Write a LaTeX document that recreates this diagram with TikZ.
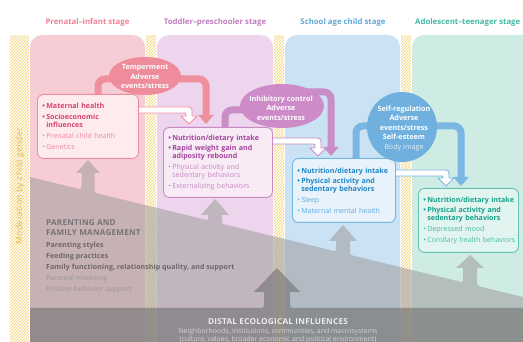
\documentclass[tikz,border=0pt]{standalone}
\usepackage{fontspec}
\setmainfont{Open Sans}
\usetikzlibrary{arrows.meta,patterns,shapes.geometric}
\definecolor{pinkcol}{HTML}{F7CDD5}
\definecolor{purpcol}{HTML}{EDD6ED}
\definecolor{bluecol}{HTML}{CBE2F5}
\definecolor{greencol}{HTML}{CFECE4}
\definecolor{hatch}{HTML}{F0CF70}
\definecolor{pgray}{HTML}{9E9A9C}
\definecolor{dgray}{HTML}{6E6E6E}
\definecolor{pinkt}{HTML}{EE8098}
\definecolor{purpt}{HTML}{C07BC0}
\definecolor{bluet}{HTML}{5FA8DA}
\definecolor{greent}{HTML}{45B8A5}
\definecolor{pinkell}{HTML}{EE8C9C}
\definecolor{purpell}{HTML}{CD8CC8}
\definecolor{blueell}{HTML}{6FB0DE}
\definecolor{pinkband}{HTML}{EF909F}
\definecolor{purpband}{HTML}{CB8DC6}
\definecolor{blueband}{HTML}{7AB7E2}
\definecolor{pinkf}{HTML}{FDEBEE}
\definecolor{purpf}{HTML}{F8EBF6}
\definecolor{bluef}{HTML}{E7F2FB}
\definecolor{greenf}{HTML}{E2F4EF}
\definecolor{pinkb}{HTML}{EB8C9E}
\definecolor{purpb}{HTML}{C98BC5}
\definecolor{blueb}{HTML}{72B7E0}
\definecolor{greenb}{HTML}{63C2B1}
\definecolor{pinkd}{HTML}{D6456A}
\definecolor{pinkl}{HTML}{EA8CA0}
\definecolor{purpd}{HTML}{A4449E}
\definecolor{purpl}{HTML}{C589C3}
\definecolor{blued}{HTML}{1F87C7}
\definecolor{bluel}{HTML}{5AAEDF}
\definecolor{greend}{HTML}{16A08A}
\definecolor{greenl}{HTML}{48B8A4}
\definecolor{modtext}{HTML}{EBBB4E}
\definecolor{parhead}{HTML}{777275}
\definecolor{pard}{HTML}{6B6668}
\definecolor{parl}{HTML}{9C9597}
\newfontfamily\widefont[LetterSpace=3]{Open Sans}
\newfontfamily\semiwidefont[LetterSpace=1.3]{Open Sans}
\newcommand\garrow[6]{-- ({#1-#5-#6},{sly(#1-#5-#6)}) .. controls ({#1-#5},{sly(#1-#5)}) .. ({#1-#5},{sly(#1-#5)-#6}) -- ({#1-#5},#3) -- ({#1-#4},#3) -- (#1,#2) -- ({#1+#4},#3) -- ({#1+#5},#3) -- ({#1+#5},{sly(#1+#5)-#6}) .. controls ({#1+#5},{sly(#1+#5)}) .. ({#1+#5+#6},{sly(#1+#5+#6)})}
\newcommand\hollowarrow[4]{(#1,{#2-3}) -- ({#3-4},{#2-3}) .. controls ({#3+3},{#2-3}) .. ({#3+3},{#2+4}) -- ({#3+3},{#4-8}) -- ({#3+8},{#4-8}) -- (#3,#4) -- ({#3-8},{#4-8}) -- ({#3-3},{#4-8}) -- ({#3-3},{#2+5}) .. controls ({#3-3},{#2+3}) .. ({#3-5},{#2+3}) -- (#1,{#2+3}) -- cycle}
\newcommand\bitb[2]{\mbox{\textcolor{#1}{\textbf{•\,#2}}}}
\newcommand\bcontb[2]{\mbox{\textcolor{#1}{\textbf{\hphantom{•\,}#2}}}}
\newcommand\bitl[2]{\mbox{\textcolor{#1}{•\,#2}}}
\newcommand\bcontl[2]{\mbox{\textcolor{#1}{\hphantom{•\,}#2}}}
\begin{document}
\begin{tikzpicture}[x=1pt,y=-1pt,
  declare function={sly(\x)=177+0.2434*(\x-30);},
  band/.style={line width=7pt, rounded corners=7pt, -{Triangle[width=15pt,length=9pt]}},
  ell/.style={ellipse, inner sep=0pt},
  etxt/.style={text=white, font=\fontsize{7.2}{9.6}\selectfont\bfseries, align=center, inner sep=0pt},
  sbox/.style={rounded corners=6pt, line width=0.9pt, anchor=north west, inner xsep=5pt, inner ysep=0pt, align=left, font=\fontsize{7.1}{8}\selectfont},
  title/.style={font=\fontsize{7.8}{9}\selectfont\bfseries},
  hollow/.style={line width=0.8pt, fill=white},
]
\path[use as bounding box] (0,0) rectangle (523,342);
\clip (0,0) rectangle (523,342);
% columns
\fill[pinkcol, rounded corners=12pt] (30,35) rectangle (145,380);
\fill[purpcol, rounded corners=12pt] (157,35) rectangle (273,380);
\fill[bluecol, rounded corners=12pt] (285,35) rectangle (400,380);
\fill[greencol, rounded corners=12pt] (412,35) rectangle (580,380);
% moderation strips
\foreach \a/\b in {10/29,146/156,274/284,401/411}{
  \fill[white!94!hatch] (\a,36) rectangle (\b,380);
  \fill[pattern=north east lines, pattern color=hatch, fill opacity=0.6] (\a,36) rectangle (\b,380);
}
% parenting region
\fill[pgray, fill opacity=0.55] (30,177) \garrow{88}{160}{173}{12}{6.5}{5} \garrow{215}{199}{215}{14}{7}{3} \garrow{343}{225}{241}{14}{7}{5} \garrow{470}{255}{268}{14}{7}{5} -- (580,{sly(580)}) -- (580,380) -- (30,380) -- cycle;
% distal region
\fill[dgray, fill opacity=0.58] (30,308) -- (258,308) .. controls (264,308) .. (264,302) -- (264,292) -- (254,292) -- (277,268) -- (300,292) -- (290,292) -- (290,302) .. controls (290,308) .. (296,308) -- (580,308) -- (580,380) -- (30,380) -- cycle;
% titles
\node[title, text=pinkt] (t1) at (87.5,22) {Prenatal–infant stage};
\node[title, text=purpt] (t2) at (215,22) {Toddler–preschooler stage};
\node[title, text=bluet] (t3) at (343,22) {School age child stage};
\node[title, text=greent, anchor=west, inner sep=0pt] (t4) at (415,22) {Adolescent–teenager stage};
\node[rotate=90, text=modtext, font=\widefont\fontsize{8.6}{9}\selectfont] (mod) at (20,186) {Moderation by child gender};
% connector end points
\coordinate (s1) at (98,96);
\coordinate (s2) at (225,129);
\coordinate (s3) at (356,160);
\coordinate (m1) at (152,79);
\coordinate (m2) at (282,92);
\coordinate (m3) at (402,126);
\coordinate (k1) at (206,124);
\coordinate (k2) at (331,156);
\coordinate (k3) at (461,186);
% solid bands
\draw[band, pinkband] (s1) |- (m1) -| (k1);
\draw[band, purpband] (s2) |- (282,110) -- (m2) -| (k2);
\draw[band, blueband] (s3) |- (m3) -| (k3);
% hollow arrows
\draw[hollow, draw=pinkband] \hollowarrow{136}{110}{189}{124};
\draw[hollow, draw=purpband] \hollowarrow{270}{141}{318}{156};
\draw[hollow, draw=blueband] \hollowarrow{393}{173}{446}{186};
% boxes
\node[sbox, draw=pinkb, fill=pinkf, text width=91pt, minimum height=64pt] (b1) at (37,94) {%
\bitb{pinkd}{Maternal health}\\[3pt]
\bitb{pinkd}{Socioeconomic}\\
\bcontb{pinkd}{influences}\\[3pt]
\bitl{pinkl}{Prenatal child health}\\[3pt]
\bitl{pinkl}{Genetics}};
\node[sbox, draw=purpb, fill=purpf, text width=99pt, minimum height=70pt] (b2) at (163,127) {%
\bitb{purpd}{Nutrition/dietary intake}\\[2pt]
\bitb{purpd}{Rapid weight gain and}\\
\bcontb{purpd}{adiposity rebound}\\[3pt]
\bitl{purpl}{Physical activity and}\\
\bcontl{purpl}{sedentary behaviors}\\[3.5pt]
\bitl{purpl}{Externalizing behaviors}};
\node[sbox, draw=blueb, fill=bluef, text width=93pt, minimum height=64pt] (b3) at (292,158) {%
\bitb{blued}{Nutrition/dietary intake}\\[2pt]
\bitb{blued}{Physical activity and}\\
\bcontb{blued}{sedentary behaviors}\\[3pt]
\bitl{bluel}{Sleep}\\[3pt]
\bitl{bluel}{Maternal mental health}};
\node[sbox, draw=greenb, fill=greenf, text width=90pt, minimum height=64pt] (b4) at (418,188) {%
\bitb{greend}{Nutrition/dietary intake}\\[2pt]
\bitb{greend}{Physical activity and}\\
\bcontb{greend}{sedentary behaviors}\\[3pt]
\bitl{greenl}{Depressed mood}\\[3pt]
\bitl{greenl}{Corollary health behaviors}};
% ellipses
\node[ell, fill=pinkell, minimum width=72pt, minimum height=38pt] (e1) at (145,76) {};
\node[etxt] (e1t) at (145,76.5) {Temperment\\Adverse\\events/stress};
\node[ell, fill=purpell, minimum width=84pt, minimum height=44pt] (e2) at (282,106) {};
\node[etxt] (e2t) at (281,108) {Inhibitory control\\Adverse\\events/stress};
\node[ell, fill=blueell, minimum width=70pt, minimum height=70pt] (e3) at (402,127) {};
\node[etxt] (e3t) at (404,128.5) {Self-regulation\\Adverse\\events/stress\\Self-esteem\\\textmd{\textcolor{white!80!blueell}{Body image}}};
% parenting text
\node[anchor=north west, inner sep=0pt, align=left, text=parhead, font=\widefont\fontsize{8.1}{10}\selectfont\bfseries] (ph) at (46,219) {PARENTING AND\\FAMILY MANAGEMENT};
\node[anchor=north west, inner sep=0pt, align=left, font=\semiwidefont\fontsize{7}{11}\selectfont] (pi) at (46,242) {%
\textcolor{pard}{\textbf{Parenting styles}}\\
\textcolor{pard}{\textbf{Feeding practices}}\\
\textcolor{pard}{\textbf{Family functioning, relationship quality, and support}}\\
\textcolor{parl}{Parental modeling}\\
\textcolor{parl}{Positive behavior support}};
% distal text
\node[text=white!92!black, font=\widefont\fontsize{8.2}{9}\selectfont\bfseries] (dh) at (278,321.5) {DISTAL ECOLOGICAL INFLUENCES};
\node[text=white!82!black, font=\fontsize{6.9}{8}\selectfont] (d1) at (278,331.5) {Neighborhoods, institutions, communities, and macrosystems};
\node[text=white!82!black, font=\fontsize{6.9}{8}\selectfont] (d2) at (278,339.3) {(culture, values, broader economic and political environment)};
\end{tikzpicture}
\end{document}
